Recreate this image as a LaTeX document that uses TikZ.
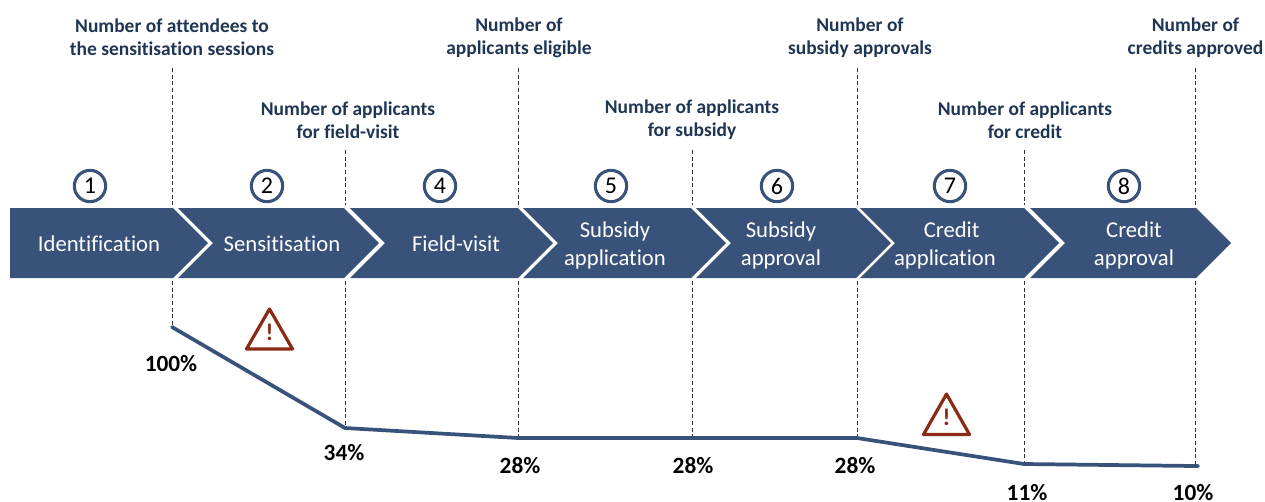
\documentclass[tikz,border=0pt]{standalone}
\usepackage{fontspec}
\setmainfont{Carlito}[Ligatures=NoCommon]
\definecolor{chevblue}{HTML}{38527A}
\definecolor{labelnavy}{HTML}{1F3554}
\definecolor{warnred}{HTML}{8A2A17}
\definecolor{dashgrey}{HTML}{333333}
\tikzset{
  chevron/.style={fill=chevblue,draw=none},
  chevtext/.style={text=white,font=\fontsize{17}{21}\selectfont,align=center,inner sep=0pt},
  toplabel/.style={text=labelnavy,font=\fontsize{14.6}{17.25}\bfseries\selectfont,align=center,inner sep=0pt},
  numring/.style={circle,draw=chevblue,line width=2.3pt,fill=white,minimum size=23.5pt,inner sep=0pt,text=black,font=\fontsize{18}{20}\selectfont},
  pct/.style={text=black,font=\fontsize{17.5}{20}\bfseries\selectfont,inner sep=0pt},
  guide/.style={draw=dashgrey,line width=0.75pt,dash pattern=on 3pt off 2pt},
  funnel/.style={draw=chevblue,line width=2.8pt,line join=round,line cap=round},
  warntri/.style={draw=warnred,line width=2.4pt,line join=round,fill=white},
  warnmark/.style={text=warnred,font=\fontsize{18}{20}\bfseries\selectfont,inner sep=0pt}
}
\begin{document}
\begin{tikzpicture}[x=0.75pt,y=-0.75pt]
\useasboundingbox (0,0) rectangle (1265,501);
% chevrons
\fill[chevron] (10,208) -- (173,208) -- (208,243) -- (173,278) -- (10,278) -- cycle;
\fill[chevron] (178,208) -- (344,208) -- (379,243) -- (344,278) -- (178,278) -- (213,243) -- cycle;
\fill[chevron] (350,208) -- (518,208) -- (553,243) -- (518,278) -- (350,278) -- (385,243) -- cycle;
\fill[chevron] (523,208) -- (691,208) -- (726,243) -- (691,278) -- (523,278) -- (558,243) -- cycle;
\fill[chevron] (696,208) -- (856,208) -- (891,243) -- (856,278) -- (696,278) -- (731,243) -- cycle;
\fill[chevron] (860,208) -- (1024,208) -- (1059,243) -- (1024,278) -- (860,278) -- (895,243) -- cycle;
\fill[chevron] (1030,208) -- (1196,208) -- (1231,243) -- (1196,278) -- (1030,278) -- (1065,243) -- cycle;
% chevron texts
\node[chevtext] (s1) at (99,244) {Identification};
\node[chevtext] (s2) at (282,244) {Sensitisation};
\node[chevtext] (s4) at (456,244) {Field-visit};
\node[chevtext] (s5) at (615,245) {Subsidy\\application};
\node[chevtext] (s6) at (781,245) {Subsidy\\approval};
\node[chevtext] (s7) at (945,245) {\hspace*{10pt}Credit\\application};
\node[chevtext] (s8) at (1134,245) {Credit\\approval};
% number rings
\node[numring] (n1) at (90,186) {1};
\node[numring] (n2) at (267,186) {2};
\node[numring] (n4) at (440,186) {4};
\node[numring] (n5) at (611,186) {5};
\node[numring] (n6) at (777,186) {6};
\node[numring] (n7) at (950,186) {7};
\node[numring] (n8) at (1124,186) {8};
% top labels
\node[toplabel] (l1) at (172,37) {Number of attendees to\\the sensitisation sessions};
\node[toplabel] (l2) at (348,120) {Number of applicants\\for field-visit};
\node[toplabel] (l3) at (519,38) {Number of\\applicants eligible};
\node[toplabel] (l4) at (692,120) {Number of applicants\\for subsidy};
\node[toplabel] (l5) at (860,38) {Number of\\subsidy approvals};
\node[toplabel] (l6) at (1025,120) {Number of applicants\\for credit};
\node[toplabel] (l7) at (1195.5,38) {Number of\\credits approved};
% guide anchors
\coordinate (t1) at (172,68);   \coordinate (a1) at (172,205); \coordinate (b1) at (172,281);
\coordinate (t2) at (345,150);  \coordinate (a2) at (345,205); \coordinate (b2) at (345,281);
\coordinate (t3) at (518,68);   \coordinate (a3) at (518,205); \coordinate (b3) at (518,281);
\coordinate (t4) at (692,150);  \coordinate (a4) at (692,205); \coordinate (b4) at (692,281);
\coordinate (t5) at (857,68);   \coordinate (a5) at (857,205); \coordinate (b5) at (857,281);
\coordinate (t6) at (1024,150); \coordinate (a6) at (1024,205);\coordinate (b6) at (1024,281);
\coordinate (t7) at (1195,68);  \coordinate (a7) at (1195,205);\coordinate (b7) at (1195,281);
\coordinate (p1) at (172,327);
\coordinate (p2) at (345,428);
\coordinate (p3) at (518,438);
\coordinate (p4) at (692,438);
\coordinate (p5) at (857,438);
\coordinate (p6) at (1024,464);
\coordinate (p7) at (1195,466);
\foreach \i in {1,...,7}{
  \draw[guide] (t\i) -- (a\i);
  \draw[guide] (b\i) -- (p\i);
}
% funnel line
\draw[funnel] (p1) -- (p2) -- (p3) -- (p4) -- (p5) -- (p6) -- (p7) -- ++(3,0);
% percentages
\node[pct] (v1) at (171,364) {100\%};
\node[pct] (v2) at (344,453) {34\%};
\node[pct] (v3) at (520,466) {28\%};
\node[pct] (v4) at (693,466) {28\%};
\node[pct] (v5) at (855,466) {28\%};
\node[pct] (v6) at (1027,492.5) {11\%};
\node[pct] (v7) at (1193,492.5) {10\%};
% warnings
\draw[warntri] (269.5,309) -- (292.5,349) -- (246.5,349) -- cycle;
\node[warnmark] (w1) at (269.5,332) {!};
\draw[warntri] (946.5,394) -- (969.5,434.5) -- (923.5,434.5) -- cycle;
\node[warnmark] (w2) at (946.5,417) {!};
\end{tikzpicture}
\end{document}
